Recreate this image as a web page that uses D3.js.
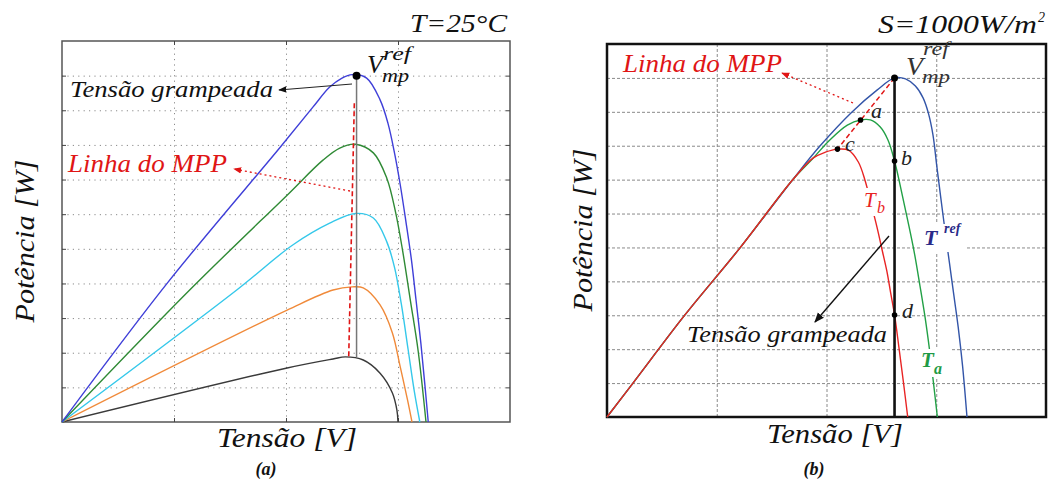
<!DOCTYPE html>
<meta charset="utf-8">
<style>
body { margin: 0; background: #fff; }
.grid line { stroke: #8a8a8a; stroke-width: 1; }
.grid path { display: none; }
</style>
<svg width="1051" height="485"></svg>
<script src="https://d3js.org/d3.v7.min.js"></script>
<script>
// panel (a): T = 25°C, curvas para várias irradiâncias  [V, W]
var blueA   = [[0,0],[9.4,40.1],[19.5,79.4],[22.4,90.9],[23.9,96.7],[25.0,99.3],[25.9,100.3],[27.2,99.3],[28.4,93.0],
               [29.1,86.3],[29.7,77.5],[30.2,68.5],[30.7,58.0],[31.2,46.8],[31.6,35.5],[32.05,22.5],[32.4,10.7],[32.7,0]];
var greenA  = [[0,0],[11.4,38.1],[20.1,65.5],[23.3,75.6],[24.8,79.1],[26.2,80.2],[27.8,77.7],[29.0,70.4],[29.8,60.3],
               [30.4,49.7],[31.1,35.2],[31.8,20.5],[32.5,0]];
var cyanA   = [[0,0],[15.6,38.1],[20.6,51.1],[23.9,57.4],[26.2,60.2],[27.8,58.9],[29.0,52.0],[29.7,44.5],[30.3,34.0],
               [30.9,21.0],[31.45,9.0],[31.95,0]];
var orangeA = [[0,0],[20.1,32.3],[24.2,38.1],[25.9,39.0],[26.9,38.7],[28.4,33.8],[29.5,25.7],[30.2,15.9],[30.85,6.4],[31.25,0]];
var blackA  = [[0,0],[20.1,15.6],[24.2,18.2],[25.3,18.8],[26.9,17.9],[28.4,14.1],[29.5,8.4],[29.9,3.5],[30.0,0]];
var vmpA = 26.3, pmpA = 100, pminA = 18.8;
var mppLineA = [[26.1,92],[25.6,18.8]];

// panel (b): S = 1000 W/m², curvas para várias temperaturas
var blueB  = [[0,0],[2.37,10.0],[7.1,30.1],[12.1,49.8],[16.9,69.9],[19.4,79.9],[22.3,89.9],[24.6,96.4],[26.2,100],
              [27.2,99.7],[28.1,97.6],[28.8,94.1],[29.3,89.4],[29.7,83.2],[30.05,74.0],[30.4,65.0],[30.8,55.0],[31.2,45.5],
              [31.6,36.0],[32.0,26.5],[32.4,15.0],[32.8,0]];
var greenB = [[0,0],[2.37,10.0],[7.1,30.1],[12.1,49.8],[16.9,69.9],[18.8,76.4],[20.3,81.7],[21.9,86.1],[23.1,87.6],
              [24.0,87.6],[24.9,85.5],[25.6,81.7],[26.2,75.5],[26.8,67.0],[27.4,58.0],[28.0,48.5],[28.5,39.0],[29.0,29.0],
              [29.4,19.5],[29.75,10.0],[30.1,0]];
var redB   = [[0,0],[2.37,10.0],[7.1,30.1],[12.1,49.8],[16.9,69.9],[18.8,76.4],[19.9,78.1],[21.0,79.0],[22.0,78.7],
              [22.9,75.2],[23.5,69.9],[24.1,62.5],[24.6,56.0],[25.1,48.8],[25.5,43.0],[25.85,36.5],[26.2,30.1],[26.6,20.5],
              [27.0,10.5],[27.4,0]];
var vmpB = 26.2, pmpB = 100;
var pointsB = [{n:"a", v:23.1, p:87.6}, {n:"b", v:26.2, p:75.5}, {n:"c", v:21.0, p:79.0}, {n:"d", v:26.2, p:30.1}];
var gridV = [10, 20, 30];
var gridP = [10, 20, 30, 40, 50, 60, 70, 80, 90, 100];

var SERIF = "Liberation Serif";
var svg = d3.select("svg");
svg.append("rect").attr("width", 1051).attr("height", 485).attr("fill", "#fff");

var defs = svg.append("defs");
function marker(id, color, s) {
    defs.append("marker").attr("id", id).attr("viewBox", "0 0 10 10")
        .attr("refX", 9).attr("refY", 5).attr("markerWidth", s).attr("markerHeight", s)
        .attr("orient", "auto").attr("markerUnits", "userSpaceOnUse")
      .append("path").attr("d", "M0,1 L10,5 L0,9 z").attr("fill", color);
}
marker("arrK", "#111", 8);
marker("arrR", "#e01515", 8);
marker("arrK2", "#111", 10);

var xA = d3.scaleLinear().domain([0, 40]).range([62, 510]);
var yA = d3.scaleLinear().domain([0, 110]).range([422, 41]);
var xB = d3.scaleLinear().domain([0, 40]).range([607, 1046]);
var yB = d3.scaleLinear().domain([0, 110]).range([417, 44]);

function grid(x, y, dash, frameColor, frameW) {
    var w = x.range()[1] - x.range()[0], h = y.range()[0] - y.range()[1];
    svg.append("g").attr("class", "grid").attr("transform", "translate(0," + y.range()[0] + ")")
        .call(d3.axisBottom(x).tickValues(gridV).tickSize(-h).tickFormat(""))
        .selectAll("line").attr("stroke-dasharray", dash);
    var gy = svg.append("g").attr("class", "grid").attr("transform", "translate(" + x.range()[0] + ",0)")
        .call(d3.axisLeft(y).tickValues(gridP).tickSize(-w).tickFormat(""));
    gy.selectAll("line").attr("stroke-dasharray", dash);
    svg.append("rect").attr("x", x.range()[0]).attr("y", y.range()[1]).attr("width", w).attr("height", h)
        .attr("fill", "none").attr("stroke", frameColor).attr("stroke-width", frameW);
    return gy;
}

// ---------- (a) ----------
grid(xA, yA, "1.2,4.2", "#555", 1.5);
// ticks inside the frame
[[d3.axisLeft(yA).tickValues(gridP), "translate(62,0)"],
 [d3.axisRight(yA).tickValues(gridP), "translate(510,0)"],
 [d3.axisBottom(xA).tickValues(gridV), "translate(0,422)"],
 [d3.axisTop(xA).tickValues(gridV), "translate(0,41)"]].forEach(function(t) {
    var g = svg.append("g").attr("transform", t[1]).call(t[0].tickSize(-4).tickFormat(""));
    g.select(".domain").remove();
    g.selectAll("line").attr("stroke", "#444");
});

var lineA = d3.line().x(function(d) { return xA(d[0]); }).y(function(d) { return yA(d[1]); }).curve(d3.curveCatmullRom.alpha(0.5));
[[blackA, "#3a3a3a"], [orangeA, "#f08a3a"], [cyanA, "#35c8ea"], [greenA, "#2f8a35"], [blueA, "#3f3fd8"]].forEach(function(c) {
    svg.append("path").attr("d", lineA(c[0])).attr("fill", "none").attr("stroke", c[1]).attr("stroke-width", 1.4);
});
svg.append("line").attr("x1", xA(vmpA)).attr("x2", xA(vmpA)).attr("y1", yA(pmpA)).attr("y2", yA(pminA))
    .attr("stroke", "#777").attr("stroke-width", 1.5);
svg.append("path").attr("d", d3.line().x(function(d) { return xA(d[0]); }).y(function(d) { return yA(d[1]); })(mppLineA))
    .attr("stroke", "#e01515").attr("stroke-width", 1.6).attr("stroke-dasharray", "5,3").attr("fill", "none");
svg.append("circle").attr("cx", xA(vmpA)).attr("cy", yA(pmpA)).attr("r", 4).attr("fill", "#000");

svg.append("line").attr("x1", 352).attr("y1", 84).attr("x2", 279).attr("y2", 90)
    .attr("stroke", "#222").attr("stroke-width", 1).attr("marker-end", "url(#arrK)");
svg.append("line").attr("x1", 350).attr("y1", 191).attr("x2", 234).attr("y2", 169)
    .attr("stroke", "#e01515").attr("stroke-width", 1.3).attr("stroke-dasharray", "2,3").attr("marker-end", "url(#arrR)");

function txt(s, x, y, size, len, color, extra) {
    var t = svg.append("text").attr("x", x).attr("y", y).attr("font-size", size)
        .attr("font-family", SERIF).attr("font-style", "italic").attr("fill", color || "#111").text(s);
    if (len) t.attr("textLength", len).attr("lengthAdjust", "spacingAndGlyphs");
    if (extra) extra(t);
    return t;
}
txt("T=25°C", 410, 32, 26, 97);
txt("Tensão grampeada", 70, 97, 24, 203);
txt("Linha do MPP", 68, 172, 25, 159, "#e01515");
txt("V", 367, 73, 25, 16);
txt("ref", 383, 60, 18, 28);
txt("mp", 382, 82, 18, 27);
txt("Tensão [V]", 217, 447, 27, 140);
txt("Potência [W]", 0, 0, 28, 163, "#111", function(t) {
    t.attr("transform", "translate(34,241) rotate(-90)").attr("x", -81.5);
});
txt("(a)", 266, 475, 18, null, "#111", function(t) { t.attr("text-anchor", "middle").attr("font-weight", "bold"); });

// ---------- (b) ----------
var gyB = grid(xB, yB, "3,2", "#111", 2.5);
gyB.selectAll("line").filter(function(d) { return d <= 20; }).attr("stroke", "#222");

var lineB = d3.line().x(function(d) { return xB(d[0]); }).y(function(d) { return yB(d[1]); }).curve(d3.curveCatmullRom.alpha(0.5));
[[blueB, "#3355a8"], [greenB, "#22a046"], [redB, "#e82424"]].forEach(function(c) {
    svg.append("path").attr("d", lineB(c[0])).attr("fill", "none").attr("stroke", c[1]).attr("stroke-width", 1.4);
});
svg.append("line").attr("x1", xB(vmpB)).attr("x2", xB(vmpB)).attr("y1", yB(pmpB)).attr("y2", yB(0))
    .attr("stroke", "#111").attr("stroke-width", 2.6);
svg.append("line").attr("x1", xB(vmpB)).attr("y1", yB(pmpB)).attr("x2", xB(21.0)).attr("y2", yB(79.0))
    .attr("stroke", "#e01515").attr("stroke-width", 1.5).attr("stroke-dasharray", "5,3");
svg.append("line").attr("x1", 853).attr("y1", 103).attr("x2", 782).attr("y2", 73)
    .attr("stroke", "#e01515").attr("stroke-width", 1.3).attr("stroke-dasharray", "2,3").attr("marker-end", "url(#arrR)");
svg.append("line").attr("x1", 889).attr("y1", 236).attr("x2", 815).attr("y2", 322)
    .attr("stroke", "#111").attr("stroke-width", 1.4).attr("marker-end", "url(#arrK2)");

svg.append("circle").attr("cx", xB(vmpB)).attr("cy", yB(pmpB)).attr("r", 3.5).attr("fill", "#000");
svg.selectAll(".pt").data(pointsB).enter().append("circle").attr("class", "pt")
    .attr("cx", function(d) { return xB(d.v); }).attr("cy", function(d) { return yB(d.p); })
    .attr("r", 2.8).attr("fill", "#000");

// label gaps in the curves
[[862, 188, 28, 28], [921, 224, 44, 28], [918, 349, 34, 28]].forEach(function(r) {
    svg.append("rect").attr("x", r[0]).attr("y", r[1]).attr("width", r[2]).attr("height", r[3]).attr("fill", "#fff");
});

txt("S=1000W/m", 878, 33, 26, 159);
txt("2", 1038, 22, 14);
txt("Linha do MPP", 623, 72, 25, 159, "#e01515");
txt("V", 906, 75, 25, 17, "#333");
txt("ref", 923, 55, 18, 26, "#333");
txt("mp", 922, 83, 18, 28, "#333");
txt("a", 871, 118, 22, null, "#222");
txt("c", 845, 151, 22, null, "#222");
txt("b", 901, 165, 22, null, "#222");
txt("d", 902, 318, 22, null, "#222");
txt("T", 864, 207, 21, null, "#e82424");
txt("b", 877, 213, 16, null, "#e82424");
txt("T", 924, 245, 22, null, "#2a2a88", function(t) { t.attr("font-weight", "bold"); });
txt("ref", 944, 233, 14, null, "#2a2a88", function(t) { t.attr("font-weight", "bold"); });
txt("T", 921, 367, 21, null, "#1f9a45", function(t) { t.attr("font-weight", "bold"); });
txt("a", 934, 374, 16, null, "#1f9a45", function(t) { t.attr("font-weight", "bold"); });
txt("Tensão grampeada", 687, 342, 24, 200);
txt("Tensão [V]", 767, 443, 27, 136);
txt("Potência [W]", 0, 0, 28, 163, "#111", function(t) {
    t.attr("transform", "translate(592,230) rotate(-90)").attr("x", -81.5);
});
txt("(b)", 814, 475, 18, null, "#111", function(t) { t.attr("text-anchor", "middle").attr("font-weight", "bold"); });
</script>
